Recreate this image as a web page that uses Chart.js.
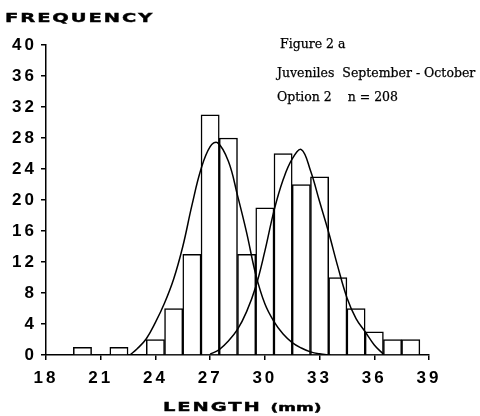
<!DOCTYPE html>
<html>
<head>
<meta charset="utf-8">
<script src="https://cdn.jsdelivr.net/npm/chart.js@4/dist/chart.umd.min.js"></script>
<style>
  html, body { margin: 0; padding: 0; background: #fff; }
  #wrap { position: relative; width: 480px; height: 416px; overflow: hidden; }
  #chart { position: absolute; left: 0; top: 0; }
  .txt { position: absolute; white-space: pre; color: #000; line-height: 1; }
  .head { font-family: "DejaVu Sans", sans-serif; font-weight: bold; font-size: 12px; letter-spacing: 1.2px;
          -webkit-text-stroke: 0.4px #000; transform: scaleX(1.62); transform-origin: 0 0; }
  .note { font-family: "DejaVu Serif", serif; font-size: 12.5px; -webkit-text-stroke: 0.25px #000; }
</style>
</head>
<body>
<div id="wrap">
  <canvas id="chart" width="480" height="416"></canvas>
  <div class="txt head" style="left:5px; top:12px;">FREQUENCY</div>
  <div class="txt note" style="left:280px; top:38px;">Figure 2 a</div>
  <div class="txt note" style="left:277px; top:67px;">Juveniles  September - October</div>
  <div class="txt note" style="left:277px; top:91px;">Option 2    n = 208</div>
  <div class="txt head" style="left:163px; top:401px;">LENGTH <span style="font-size:10.5px; letter-spacing:0;">(mm)</span></div>
</div>
<script>
// ---- data ----
const binCentres = [20, 22, 24, 25, 26, 27, 28, 29, 30, 31, 32, 33, 34, 35, 36, 37, 38];
const binCounts  = [1, 1, 2, 6, 13, 31, 28, 13, 19, 26, 22, 23, 10, 6, 3, 2, 2];

// fitted curve, first cohort
const curve1Len  = [22.6, 23, 23.5, 24, 24.5, 25, 25.5, 26, 26.5, 27, 27.4, 28, 28.5, 29, 29.5, 30, 30.5, 31, 31.5, 32, 32.5, 33, 33.6];
const curve1Freq = [0, 0.8, 2.1, 4.2, 6.7, 9.8, 14.0, 19.3, 24.0, 26.9, 27.4, 25.0, 20.6, 15.8, 10.4, 6.6, 4.3, 2.7, 1.6, 0.9, 0.4, 0.15, 0];

// fitted curve, second cohort
const curve2Len  = [27, 27.5, 28, 28.5, 29, 29.5, 30, 30.5, 31, 31.5, 32, 32.5, 33, 33.5, 34, 34.5, 35, 35.5, 36, 36.5];
const curve2Freq = [0.1, 0.7, 1.8, 3.3, 5.6, 8.8, 13.4, 18.6, 22.6, 25.3, 26.5, 23.8, 19.8, 15.8, 11.4, 7.4, 4.7, 3.0, 1.3, 0.1];

const xMin = 18, xMax = 39, xStep = 3;
const yMin = 0, yMax = 40, yStep = 4;

const pts = (xs, ys) => xs.map((x, i) => ({ x, y: ys[i] }));

const curveStyle = {
  type: 'line', borderColor: '#000', borderWidth: 1.5, pointRadius: 0,
  fill: false, tension: 0.4, order: 0,
};

// canvas letter spacing for the spaced-out tick digits
const spacing = {
  id: 'spacing',
  beforeDraw(chart) { chart.ctx.letterSpacing = '3px'; },
};

const axisBlack = { color: '#000', width: 1.5 };
const tickFont = { family: 'Liberation Sans', weight: 'bold', size: 17 };

new Chart(document.getElementById('chart'), {
  type: 'bar',
  data: {
    datasets: [
      { label: 'curve 1', data: pts(curve1Len, curve1Freq), ...curveStyle },
      { label: 'curve 2', data: pts(curve2Len, curve2Freq), ...curveStyle },
      {
        label: 'counts', data: pts(binCentres, binCounts), order: 1,
        backgroundColor: '#fff', borderColor: '#000', borderWidth: 1.5,
        barPercentage: 1, categoryPercentage: 1,
      },
    ],
  },
  options: {
    responsive: false, animation: false,
    devicePixelRatio: 1,
    layout: { padding: { left: 0, right: 51, top: 45, bottom: 31 } },
    plugins: { legend: { display: false }, tooltip: { enabled: false } },
    scales: {
      x: {
        type: 'linear', min: xMin, max: xMax, offset: false,
        afterFit: (s) => { s.height = 30; },
        border: axisBlack,
        grid: { drawOnChartArea: false, offset: false, tickLength: 5, color: '#000', lineWidth: 1.5 },
        ticks: { stepSize: xStep, color: '#000', font: tickFont, padding: 8, maxRotation: 0 },
      },
      y: {
        min: yMin, max: yMax,
        afterFit: (s) => { s.width = 46; },
        border: axisBlack,
        grid: { drawOnChartArea: false, tickLength: 5, color: '#000', lineWidth: 1.5 },
        ticks: { stepSize: yStep, color: '#000', font: tickFont, padding: 4 },
      },
    },
  },
  plugins: [spacing],
});
</script>
</body>
</html>
